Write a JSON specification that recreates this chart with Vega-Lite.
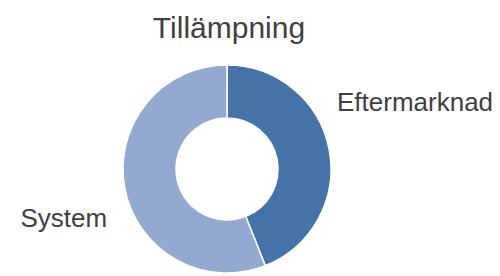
{
  "$schema": "https://vega.github.io/schema/vega-lite/v6.json",
  "width": 454,
  "height": 214,
  "autosize": "none",
  "padding": {"top": 62, "left": 0, "right": 46, "bottom": 0},
  "background": "white",
  "title": {
    "text": "Tillämpning",
    "anchor": "middle",
    "font": "Liberation Sans",
    "fontSize": 30,
    "fontWeight": "normal",
    "color": "#404040",
    "offset": 18,
    "dx": 2
  },
  "data": {
    "values": [
      {"k": "Eftermarknad", "v": 44},
      {"k": "System", "v": 56}
    ]
  },
  "config": {"view": {"stroke": null}},
  "layer": [
    {
      "mark": {"type": "arc", "outerRadius": 104, "innerRadius": 51, "stroke": "white", "strokeWidth": 1.5},
      "encoding": {
        "theta": {"field": "v", "type": "quantitative", "stack": true},
        "color": {
          "field": "k",
          "type": "nominal",
          "scale": {"domain": ["Eftermarknad", "System"], "range": ["#4572A7", "#93A9CF"]},
          "legend": null
        },
        "order": {"field": "k"}
      }
    },
    {
      "mark": {"type": "text", "radius": 112, "align": "left", "baseline": "alphabetic", "dy": -37, "font": "Liberation Sans", "fontSize": 26, "fill": "#404040"},
      "encoding": {
        "theta": {"field": "v", "type": "quantitative", "stack": true},
        "detail": {"field": "k"},
        "order": {"field": "k"},
        "text": {"condition": {"test": "datum.k === 'Eftermarknad'", "field": "k"}, "value": ""}
      }
    },
    {
      "mark": {"type": "text", "radius": 122, "align": "right", "baseline": "alphabetic", "dy": 35, "font": "Liberation Sans", "fontSize": 26, "fill": "#404040"},
      "encoding": {
        "theta": {"field": "v", "type": "quantitative", "stack": true},
        "detail": {"field": "k"},
        "order": {"field": "k"},
        "text": {"condition": {"test": "datum.k === 'System'", "field": "k"}, "value": ""}
      }
    }
  ]
}
